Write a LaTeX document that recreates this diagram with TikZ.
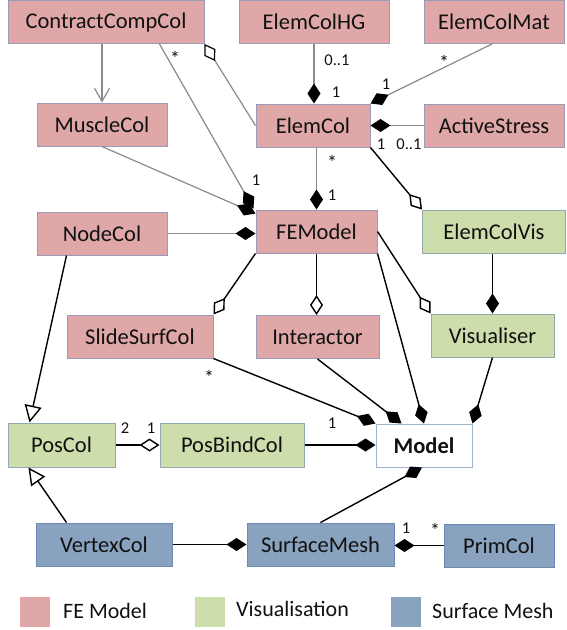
\documentclass[tikz,border=0pt]{standalone}
\usepackage{fontspec}
\setmainfont{Carlito}
\usetikzlibrary{arrows.meta,calc}
\definecolor{fepink}{HTML}{E0A7A8}
\definecolor{feborder}{HTML}{9C9AB8}
\definecolor{visgreen}{HTML}{CDDDAB}
\definecolor{visborder}{HTML}{93A8B0}
\definecolor{smblue}{HTML}{88A2BF}
\definecolor{smborder}{HTML}{6B89B0}
\definecolor{modelborder}{HTML}{9DB5CF}
\definecolor{linegray}{HTML}{8A8A8A}
\definecolor{txt}{HTML}{111111}
\begin{document}
\begin{tikzpicture}[x=1pt,y=-1pt,
 box/.style={rectangle, draw, line width=1pt, minimum height=43pt, inner sep=0pt, font=\fontsize{22.5}{25}\selectfont, text=txt, anchor=center},
 fe/.style={box, fill=fepink, draw=feborder},
 vis/.style={box, fill=visgreen, draw=visborder},
 sm/.style={box, fill=smblue, draw=smborder},
 lab/.style={font=\fontsize{16.5}{18}\selectfont, text=txt, inner sep=0pt},
 star/.style={font=\fontsize{20}{22}\selectfont, text=txt, inner sep=0pt},
 leg/.style={font=\fontsize{22}{24}\selectfont, text=txt, inner sep=0pt, anchor=west},
 gl/.style={draw=linegray, line width=1.2pt},
 bl/.style={draw=black, line width=1.4pt},
 fd/.style={-{Diamond[length=20pt,width=13pt,color=black,fill=black]}},
 od/.style={-{Diamond[open,length=20pt,width=13pt,color=black]}},
 gen/.style={-{Triangle[open,length=17pt,width=17pt,color=black]}},
 nav/.style={-{Straight Barb[length=13pt,width=15pt]}},
]
\useasboundingbox (0,0) rectangle (566,630);
% boxes
\node[fe, minimum width=196pt] (ccc) at (106,22) {ContractCompCol};
\node[fe, minimum width=150pt] (hg) at (314,22) {ElemColHG};
\node[fe, minimum width=140pt] (mat) at (494,22) {ElemColMat};
\node[fe, minimum width=130pt] (mus) at (102,124.5) {MuscleCol};
\node[fe, minimum width=114pt] (ec) at (313,125.5) {ElemCol};
\node[fe, minimum width=140pt] (as) at (494,125.5) {ActiveStress};
\node[fe, minimum width=130pt] (nc) at (102,233.5) {NodeCol};
\node[fe, minimum width=121pt] (fem) at (316.5,231.5) {FEModel};
\node[vis, minimum width=143pt] (ecv) at (494,231.5) {ElemColVis};
\node[fe, minimum width=146pt] (ssc) at (140,336.5) {SlideSurfCol};
\node[fe, minimum width=123pt] (int) at (317.5,337) {Interactor};
\node[vis, minimum width=123pt] (vis) at (492.5,335.5) {Visualiser};
\node[vis, minimum width=107pt, minimum height=44pt] (pos) at (61.5,445) {PosCol};
\node[vis, minimum width=144pt, minimum height=44pt] (pbc) at (232,445) {PosBindCol};
\node[box, fill=white, draw=modelborder, minimum width=96pt, font=\fontsize{22.5}{25}\selectfont\bfseries] (model) at (424,445.5) {Model};
\node[sm, minimum width=136pt] (vc) at (104,544.5) {VertexCol};
\node[sm, minimum width=147pt] (sm) at (320.5,544.5) {SurfaceMesh};
\node[sm, minimum width=110pt] (prim) at (499,545.5) {PrimCol};
% connectors
\draw[gl, nav] (mus.north |- ccc.south) -- (mus.north);
\draw[gl, fd] ($(ccc.south west)+(152,0)$) -- ($(fem.north west)+(-2,-1)$);
\draw[gl, od] (ec.west) -- (ccc.south east);
\draw[gl, fd] (mus.south) -- ($(fem.north west)+(0,4)$);
\draw[gl, fd] (nc.east) -- (nc.east -| fem.west);
\draw[gl, fd] (hg.south) -- (hg.south |- ec.north);
\draw[gl, fd] ($(mat.south)+(-2,0)$) -- (ec.north east);
\draw[gl, fd] (as.west) -- (as.west -| ec.east);
\draw[gl, fd] (fem.north |- ec.south) -- (fem.north);
\draw[bl, od] (ec.south east) -- (ecv.north west);
\draw[bl, od] (fem.south west) -- (ssc.north east);
\draw[bl, od] (fem.south) -- (fem.south |- int.north);
\draw[bl, od] (fem.east) -- (vis.north west);
\draw[bl, fd] (vis.north |- ecv.south) -- (vis.north);
\draw[bl, fd] (fem.south east) -- (model.north);
\draw[bl, fd] (vis.south) -- (model.north east);
\draw[bl, fd] (int.south) -- ($(model.north west)+(26,0)$);
\draw[bl, fd] (ssc.south east) -- (model.north west);
\draw[bl, fd] (sm.north) -- ($(model.south)+(-2,0)$);
\draw[bl, fd] (pbc.east) -- (pbc.east -| model.west);
\draw[bl, od] (pos.east) -- (pos.east -| pbc.west);
\draw[bl, fd] (vc.east) -- (vc.east -| sm.west);
\draw[bl, fd] (prim.west) -- (prim.west -| sm.east);
\draw[bl, gen] ($(vc.north west)+(31,0)$) -- ($(pos.south west)+(21,0)$);
\draw[bl, gen] ($(nc.south west)+(30,0)$) -- ($(pos.north west)+(22,0)$);
% labels
\node[star] (l1) at (175,58) {*};
\node[lab] (l2) at (256,180) {1};
\node[lab] (l3) at (337,60) {0..1};
\node[lab] (l4) at (336,92) {1};
\node[star] (l5) at (444,62) {*};
\node[lab] (l6) at (386,84) {1};
\node[lab] (l7) at (381,144) {1};
\node[lab] (l8) at (409,144) {0..1};
\node[star] (l9) at (332,162) {*};
\node[lab] (l10) at (332,195) {1};
\node[star] (l11) at (209,377) {*};
\node[lab] (l12) at (332,423) {1};
\node[lab] (l13) at (125,428) {2};
\node[lab] (l14) at (151,428) {1};
\node[lab] (l15) at (406,528) {1};
\node[star] (l16) at (435,530) {*};
% legend
\node[fill=fepink, minimum size=30pt, inner sep=0pt] (k1) at (35,612) {};
\node[leg] (t1) at (63,611) {FE Model};
\node[fill=visgreen, minimum size=30pt, inner sep=0pt] (k2) at (210,612) {};
\node[leg] (t2) at (236,609) {Visualisation};
\node[fill=smblue, minimum size=30pt, inner sep=0pt] (k3) at (406,612) {};
\node[leg] (t3) at (432,611) {Surface Mesh};
\end{tikzpicture}
\end{document}
